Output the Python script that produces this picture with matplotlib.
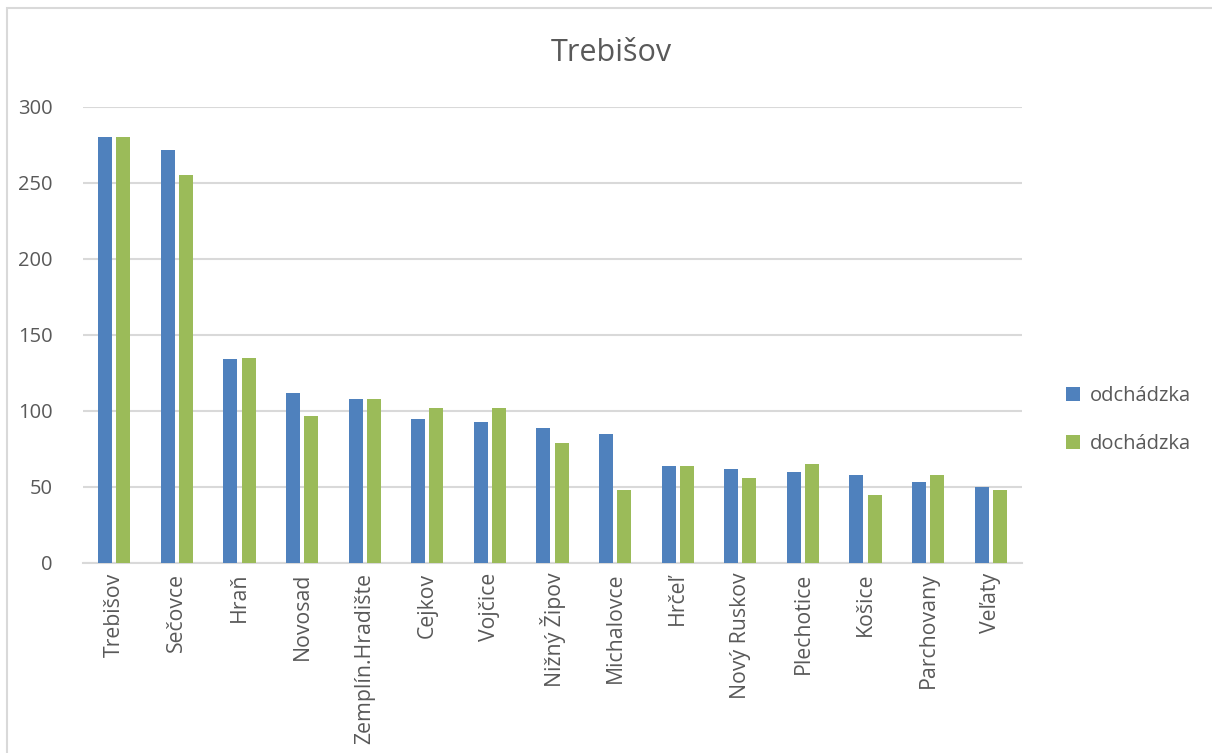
import matplotlib
matplotlib.use("Agg")
import matplotlib.pyplot as plt
from matplotlib.patches import Rectangle
import numpy as np

plt.rcParams["font.family"] = ["Open Sans", "DejaVu Sans"]

TEXT = "#595959"
GRID = "#D9D9D9"

towns = ["Trebišov", "Sečovce", "Hraň", "Novosad", "Zemplín.Hradište", "Cejkov",
         "Vojčice", "Nižný Žipov", "Michalovce", "Hrčeľ", "Nový Ruskov",
         "Plechotice", "Košice", "Parchovany", "Veľaty"]
odchadzka = [280, 272, 134, 112, 108, 95, 93, 89, 85, 64, 62, 60, 58, 53, 50]
dochadzka = [280, 255, 135, 97, 108, 102, 102, 79, 48, 64, 56, 65, 45, 58, 48]
y_ticks = [0, 50, 100, 150, 200, 250, 300]

fig = plt.figure(figsize=(12.12, 7.53), dpi=100, facecolor="white")
ax = fig.add_axes([83 / 1212, 1 - 563 / 753, 939 / 1212, 456 / 753])

# chart area border (runs off the right and bottom edges)
fig.patches.append(Rectangle((7 / 1212, -0.1), 1.2, 1.1 - 8 / 753, transform=fig.transFigure,
                             fill=False, edgecolor=GRID, linewidth=1.5))

x = np.arange(len(towns))
w = 0.224
off = 0.144
ax.bar(x - off, odchadzka, width=w, color="#4F81BD", label="odchádzka", zorder=3)
ax.bar(x + off, dochadzka, width=w, color="#9BBB59", label="dochádzka", zorder=3)

ax.set_xlim(-0.5, len(towns) - 0.5)
ax.set_ylim(0, 300)
ax.set_yticks(y_ticks)
ax.set_xticks(x)
ax.set_xticklabels(towns, rotation=90, va="top", ha="center")
ax.tick_params(axis="both", length=0, labelsize=14.5, labelcolor=TEXT)
ax.tick_params(axis="x", labelsize=15.3, pad=7)
ax.tick_params(axis="y", pad=22)
ax.grid(axis="y", color=GRID, linewidth=1.5, zorder=0)
for s in ["top", "right", "left"]:
    ax.spines[s].set_visible(False)
ax.spines["bottom"].set_color(GRID)
ax.spines["bottom"].set_linewidth(1.5)

fig.text(611 / 1212, 1 - 53 / 753, "Trebišov", ha="center", va="center",
         fontsize=22, color=TEXT)

leg = fig.legend(loc="center left", bbox_to_anchor=(1048 / 1212, 1 - 420 / 753),
                 frameon=False, fontsize=14.5, labelcolor=TEXT, handlelength=0.7,
                 handleheight=0.7, handletextpad=0.5, labelspacing=1.4)

fig.savefig("out.png", dpi=100, facecolor="white")
